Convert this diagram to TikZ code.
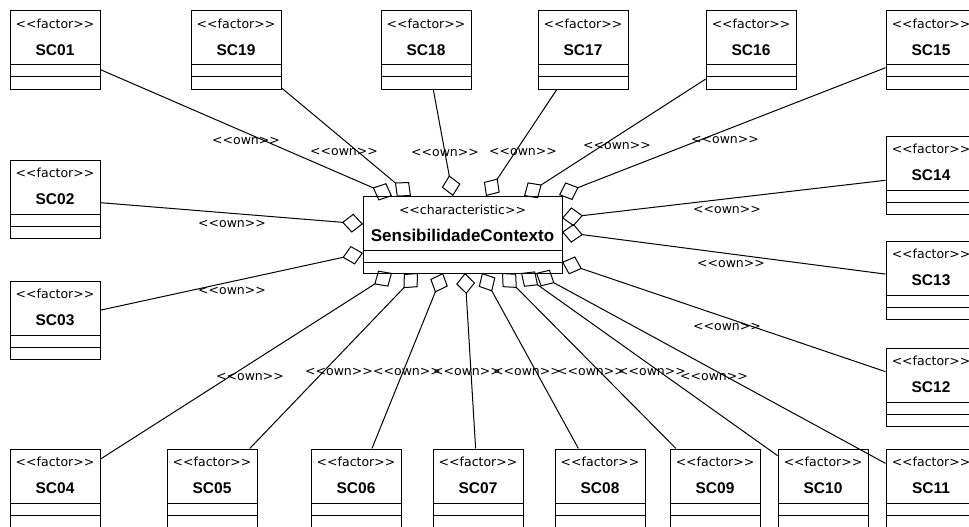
\documentclass[tikz,border=0pt]{standalone}
\usepackage{fontspec}
\setmainfont{Liberation Sans}
\newfontfamily\stereofont{DejaVu Sans}
\usetikzlibrary{arrows.meta}

% factor class: name box with two empty compartments below
\newcommand\umlfactor[3]{%
  \node[factor] (#1) at (#2) {};
  \node[stereo] (#1-st) at ([yshift=-13pt]#1.north) {<<factor>>};
  \node[fname]  (#1-nm) at ([yshift=-40pt]#1.north) {#3};
}

\begin{document}
\begin{tikzpicture}[x=1pt,y=-1pt,
  box/.style={draw, fill=white, line width=1pt, inner sep=0pt},
  compartments/.style 2 args={path picture={
      \draw[line width=1pt]
        ([yshift=#1]path picture bounding box.south west) -- ([yshift=#1]path picture bounding box.south east)
        ([yshift=#2]path picture bounding box.south west) -- ([yshift=#2]path picture bounding box.south east);}},
  factor/.style={box, minimum width=90pt, minimum height=78pt, compartments={24pt}{12pt}},
  stereo/.style={font=\stereofont\fontsize{12.5}{14}\selectfont, inner sep=0pt},
  fname/.style={font=\bfseries\fontsize{15.5}{17}\selectfont, inner sep=0pt},
  own/.style={font=\stereofont\fontsize{12.5}{14}\selectfont, inner sep=0pt},
  agg/.style={line width=1pt, -{Diamond[open, length=21pt, width=19pt, line width=1pt]}}
]
\fill[white] (0,0) rectangle (969,527);
\useasboundingbox (0,0) rectangle (969,527);
\clip (0,0) rectangle (969,527);

% central characteristic
\node[box, minimum width=199pt, minimum height=77pt, compartments={23pt}{11pt}] (sc) at (462.5,234.5) {};
\node[stereo] (sc-st) at ([yshift=-14pt]sc.north) {<<characteristic>>};
\node[fname, font=\bfseries\fontsize{17}{19}\selectfont] (sc-nm) at ([yshift=-40pt]sc.north) {SensibilidadeContexto};

% factors: top row
\umlfactor{sc01}{55,50}{SC01}
\umlfactor{sc19}{236,50}{SC19}
\umlfactor{sc18}{426,50}{SC18}
\umlfactor{sc17}{583,50}{SC17}
\umlfactor{sc16}{751,50}{SC16}
\umlfactor{sc15}{931,50}{SC15}
% left column
\umlfactor{sc02}{55,199}{SC02}
\umlfactor{sc03}{55,320}{SC03}
% right column
\umlfactor{sc14}{931,175}{SC14}
\umlfactor{sc13}{931,280}{SC13}
\umlfactor{sc12}{931,387}{SC12}
% bottom row
\umlfactor{sc04}{55,488}{SC04}
\umlfactor{sc05}{212,488}{SC05}
\umlfactor{sc06}{356,488}{SC06}
\umlfactor{sc07}{478,488}{SC07}
\umlfactor{sc08}{600,488}{SC08}
\umlfactor{sc09}{715,488}{SC09}
\umlfactor{sc10}{823,488}{SC10}
\umlfactor{sc11}{931,488}{SC11}

% aggregation ends on the characteristic's border
\coordinate (t01) at (392,196);
\coordinate (t19) at (411,196);
\coordinate (t18) at (453,196);
\coordinate (t17) at (486,196);
\coordinate (t16) at (524,196);
\coordinate (t15) at (559,195);
\coordinate (t02) at (363,224);
\coordinate (t03) at (363,253);
\coordinate (t14) at (562,218);
\coordinate (t13) at (562,232);
\coordinate (t12) at (562,262);
\coordinate (t04) at (392,273);
\coordinate (t05) at (418,273);
\coordinate (t06) at (443,273);
\coordinate (t07) at (465,273);
\coordinate (t08) at (482,273);
\coordinate (t09) at (502,273);
\coordinate (t10) at (521,273);
\coordinate (t11) at (536,273);

\foreach \n in {01,02,03,04,05,06,07,08,09,10,11,12,13,14,15,16,17,18,19}
  \draw[agg] (sc\n) -- (t\n);

% association stereotypes
\node[own] (o01) at (246,141) {<<own>>};
\node[own] (o19) at (344,152) {<<own>>};
\node[own] (o18) at (445,153) {<<own>>};
\node[own] (o17) at (523,152) {<<own>>};
\node[own] (o16) at (617,146) {<<own>>};
\node[own] (o15) at (725,140) {<<own>>};
\node[own] (o02) at (232,224) {<<own>>};
\node[own] (o03) at (232,291) {<<own>>};
\node[own] (o14) at (727,210) {<<own>>};
\node[own] (o13) at (731,264) {<<own>>};
\node[own] (o12) at (727,327) {<<own>>};
\node[own] (o04) at (250,377) {<<own>>};
\node[own] (o05) at (339,372) {<<own>>};
\node[own] (o06) at (407,372) {<<own>>};
\node[own] (o07) at (467,372) {<<own>>};
\node[own] (o08) at (527,372) {<<own>>};
\node[own] (o09) at (591,372) {<<own>>};
\node[own] (o10) at (652,372) {<<own>>};
\node[own] (o11) at (714,377) {<<own>>};
\end{tikzpicture}
\end{document}
